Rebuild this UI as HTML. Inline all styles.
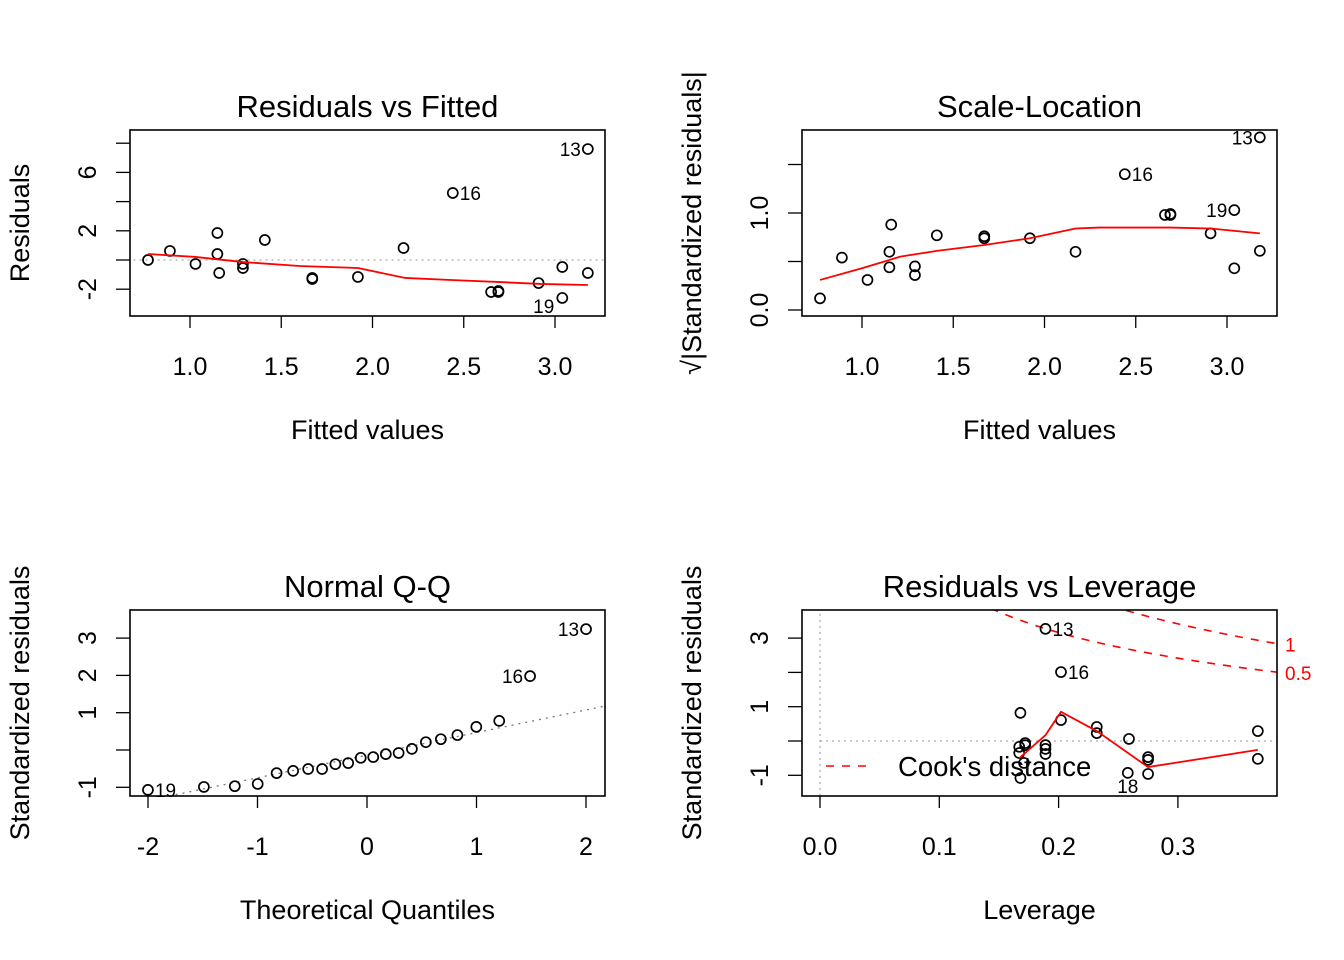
<!DOCTYPE html>
<html><head><meta charset="utf-8"><style>
html,body{margin:0;padding:0;background:#fff;width:1344px;height:960px;overflow:hidden}
svg{display:block;font-family:"Liberation Sans",Arial,sans-serif}
</style></head><body>
<svg id="chart" width="1344" height="960" xmlns="http://www.w3.org/2000/svg"></svg>
<script>
// Panel 1: Residuals vs Fitted
const rvfFitted=[0.77,0.89,1.03,1.15,1.15,1.16,1.29,1.29,1.41,1.67,1.67,1.92,2.17,2.44,2.65,2.69,2.69,2.91,3.04,3.04,3.18,3.18];
const rvfResid=[0,0.62,-0.27,1.85,0.41,-0.89,-0.27,-0.55,1.37,-1.23,-1.3,-1.16,0.82,4.59,-2.19,-2.19,-2.12,-1.58,-2.6,-0.48,-0.89,7.6];
const rvfSmoothX=[0.77,1.03,1.29,1.60,1.92,2.18,2.43,2.70,2.92,3.18];
const rvfSmoothY=[0.41,0.21,-0.14,-0.41,-0.55,-1.23,-1.37,-1.51,-1.64,-1.71];
// Panel 2: Scale-Location
const slFitted=[0.77,0.89,1.03,1.16,1.15,1.15,1.29,1.29,1.41,1.67,1.67,1.92,2.17,2.44,2.66,2.69,2.69,2.91,3.04,3.04,3.18,3.18];
const slSqrt=[0.12,0.54,0.31,0.88,0.6,0.44,0.45,0.36,0.77,0.74,0.76,0.74,0.6,1.40,0.98,0.98,0.99,0.79,1.03,0.43,0.61,1.78];
const slSmoothX=[0.77,1.0,1.21,1.41,1.67,1.92,2.17,2.30,2.69,2.91,3.18];
const slSmoothY=[0.31,0.43,0.55,0.61,0.67,0.74,0.84,0.85,0.85,0.84,0.79];
// Panel 3: Normal Q-Q (sorted standardized residuals)
const qqStd=[-1.07,-0.99,-0.97,-0.91,-0.62,-0.56,-0.51,-0.51,-0.38,-0.35,-0.21,-0.19,-0.11,-0.08,0.03,0.21,0.29,0.40,0.62,0.78,1.98,3.24];
// Panel 4: Residuals vs Leverage
const lvLev=[0.168,0.172,0.167,0.167,0.171,0.168,0.172,0.189,0.189,0.189,0.189,0.202,0.202,0.232,0.232,0.259,0.258,0.275,0.275,0.275,0.367,0.367];
const lvStd=[0.82,-0.06,-0.17,-0.35,-0.64,-1.08,-0.12,3.27,-0.12,-0.23,-0.38,2.01,0.61,0.41,0.23,0.06,-0.93,-0.47,-0.55,-0.96,0.29,-0.52];
const lvSmoothX=[0.167,0.189,0.202,0.232,0.275,0.367];
const lvSmoothY=[-0.50,0.17,0.85,0.29,-0.76,-0.26];
const cookLevels=[0.5,1];
const nParams=5;

const NS="http://www.w3.org/2000/svg";
const svg=document.getElementById('chart');
function el(tag,attrs,parent,text){const e=document.createElementNS(NS,tag);for(const k in attrs)e.setAttribute(k,attrs[k]);if(text!==undefined)e.textContent=text;(parent||svg).appendChild(e);return e;}

function qnorm(p){
 const a=[-39.69683028665376,220.9460984245205,-275.9285104469687,138.3577518672690,-30.66479806614716,2.506628277459239];
 const b=[-54.47609879822406,161.5858368580409,-155.6989798598866,66.80131188771543,-13.28068155288572];
 const c=[-0.007784894002430293,-0.3223964580411365,-2.400758277161838,-2.549732539343734,4.374664141464968,2.938163982698783];
 const d=[0.007784695709041462,0.3224671290700398,2.445134137142996,3.754408661907416];
 let q,r;
 if(p<0.02425){q=Math.sqrt(-2*Math.log(p));return (((((c[0]*q+c[1])*q+c[2])*q+c[3])*q+c[4])*q+c[5])/((((d[0]*q+d[1])*q+d[2])*q+d[3])*q+1);}
 if(p>1-0.02425){q=Math.sqrt(-2*Math.log(1-p));return -(((((c[0]*q+c[1])*q+c[2])*q+c[3])*q+c[4])*q+c[5])/((((d[0]*q+d[1])*q+d[2])*q+d[3])*q+1);}
 q=p-0.5;r=q*q;return (((((a[0]*r+a[1])*r+a[2])*r+a[3])*r+a[4])*r+a[5])*q/(((((b[0]*r+b[1])*r+b[2])*r+b[3])*r+b[4])*r+1);
}

let clipId=0;
function panel(o){
 const g=el('g',{});
 
 
 const id='clip'+(clipId++);
 const cp=el('clipPath',{id:id},g);el('rect',{x:o.x0,y:o.y0,width:o.x1-o.x0,height:o.y1-o.y0},cp);
 const plot=el('g',{'clip-path':'url(#'+id+')'},g);
 const t=el('text',{x:(o.x0+o.x1)/2,y:o.y0-13,'text-anchor':'middle','font-size':31},g,o.title);
 
 o.xt.forEach((v,i)=>{const px=o.sx(v);el('line',{x1:px,x2:px,y1:o.y1,y2:o.y1+12,stroke:'#000','stroke-width':1.3},g);
  const l=el('text',{x:px,y:o.y1+59,'text-anchor':'middle','font-size':25},g,o.xl[i]);
  });
 o.yt.forEach(v=>{const py=o.sy(v);el('line',{x1:o.x0-14,x2:o.x0,y1:py,y2:py,stroke:'#000','stroke-width':1.3},g);});
 o.yl.forEach(([v,s])=>{const py=o.sy(v);const l=el('text',{x:0,y:0,'text-anchor':'middle','font-size':25,transform:`translate(${o.x0-34},${py}) rotate(-90)`},g,s);
  });
 const xl=el('text',{x:(o.x0+o.x1)/2,y:o.y1+123,'text-anchor':'middle','font-size':27},g,o.xlab);
 
 const yl=el('text',{x:0,y:0,'text-anchor':'middle','font-size':27,transform:`translate(${o.ylx},${(o.y0+o.y1)/2}) rotate(-90)`},g,o.ylab);
 
 el('rect',{x:o.x0,y:o.y0,width:o.x1-o.x0,height:o.y1-o.y0,fill:'none',stroke:'#000','stroke-width':1.6},g);
 return {g,plot};
}
function pts(P,xs,ys,sx,sy){xs.forEach((x,i)=>{const c=el('circle',{cx:sx(x),cy:sy(ys[i]),r:5,fill:'none',stroke:'#000','stroke-width':1.7},P);
 });}
function line(P,xs,ys,sx,sy,attrs,name){const d=xs.map((x,i)=>(i?'L':'M')+sx(x)+','+sy(ys[i])).join('');const p=el('path',Object.assign({d:d,fill:'none'},attrs),P);
 return p;}
function lab(P,x,y,s,anchor){const t=el('text',{x:x,y:y,'text-anchor':anchor,'font-size':19},P,s);}

// Panel 1
{const sx=v=>190+(v-1)*182.5, sy=v=>260-v*14.6;
 const {g,plot}=panel({name:'residuals-vs-fitted',x0:130,x1:605,y0:130,y1:316,sx,sy,title:'Residuals vs Fitted',xlab:'Fitted values',ylab:'Residuals',ylx:29,
  xt:[1,1.5,2,2.5,3],xl:['1.0','1.5','2.0','2.5','3.0'],yt:[-2,0,2,4,6,8],yl:[[-2,'-2'],[2,'2'],[6,'6']]});
 line(plot,[0,4],[0,0],sx,sy,{stroke:'#aaa','stroke-width':1.3,'stroke-dasharray':'2 4'},'zero-line');
 pts(plot,rvfFitted,rvfResid,sx,sy);
 line(plot,rvfSmoothX,rvfSmoothY,sx,sy,{stroke:'#f00','stroke-width':1.8},'smooth-line');
 lab(g,sx(3.18)-7,sy(7.6)+7,'13','end');lab(g,sx(2.44)+7,sy(4.59)+7,'16','start');lab(g,sx(3.04)-8,sy(-2.6)+15,'19','end');}
// Panel 2
{const sx=v=>862+(v-1)*182.5, sy=v=>310-v*97;
 const {g,plot}=panel({name:'scale-location',x0:802,x1:1277,y0:130,y1:316,sx,sy,title:'Scale-Location',xlab:'Fitted values',ylab:'√|Standardized residuals|',ylx:701,
  xt:[1,1.5,2,2.5,3],xl:['1.0','1.5','2.0','2.5','3.0'],yt:[0,0.5,1,1.5],yl:[[0,'0.0'],[1,'1.0']]});
 pts(plot,slFitted,slSqrt,sx,sy);
 line(plot,slSmoothX,slSmoothY,sx,sy,{stroke:'#f00','stroke-width':1.8},'smooth-line');
 lab(g,sx(3.18)-7,sy(1.78)+7,'13','end');lab(g,sx(2.44)+7,sy(1.40)+7,'16','start');lab(g,sx(3.04)-7,sy(1.03)+7,'19','end');}
// Panel 3
{const sx=v=>367+v*109.5, sy=v=>750-v*37.3;
 const {g,plot}=panel({name:'normal-qq',x0:130,x1:605,y0:610,y1:796,sx,sy,title:'Normal Q-Q',xlab:'Theoretical Quantiles',ylab:'Standardized residuals',ylx:29,
  xt:[-2,-1,0,1,2],xl:['-2','-1','0','1','2'],yt:[-1,0,1,2,3],yl:[[-1,'-1'],[1,'1'],[2,'2'],[3,'3']]});
 const n=qqStd.length, th=qqStd.map((_,i)=>qnorm((i+0.5)/n));
 const q=p=>{const h=(n-1)*p,lo=Math.floor(h);return qqStd[lo]+(h-lo)*(qqStd[lo+1]-qqStd[lo]);};
 const slope=(q(0.75)-q(0.25))/(qnorm(0.75)-qnorm(0.25)), ic=q(0.25)-slope*qnorm(0.25);
 line(plot,[-3,3],[ic-3*slope,ic+3*slope],sx,sy,{stroke:'#777','stroke-width':1.3,'stroke-dasharray':'2 5'},'qq-line');
 pts(plot,th,qqStd,sx,sy);
 lab(g,sx(th[n-1])-7,sy(qqStd[n-1])+7,'13','end');lab(g,sx(th[n-2])-7,sy(qqStd[n-2])+7,'16','end');lab(g,sx(th[0])+7,sy(qqStd[0])+7,'19','start');}
// Panel 4
{const sx=v=>820+v*1193, sy=v=>741-v*34.3;
 const {g,plot}=panel({name:'residuals-vs-leverage',x0:802,x1:1277,y0:610,y1:796,sx,sy,title:'Residuals vs Leverage',xlab:'Leverage',ylab:'Standardized residuals',ylx:701,
  xt:[0,0.1,0.2,0.3],xl:['0.0','0.1','0.2','0.3'],yt:[-1,0,1,2,3],yl:[[-1,'-1'],[1,'1'],[3,'3']]});
 line(plot,[0,0.4],[0,0],sx,sy,{stroke:'#aaa','stroke-width':1.3,'stroke-dasharray':'2 4'},'zero-line');
 line(plot,[0,0],[-3,5],sx,sy,{stroke:'#aaa','stroke-width':1.3,'stroke-dasharray':'2 4'},'zero-leverage-line');
 cookLevels.forEach(c=>{const hs=[],ys=[],ys2=[];for(let h=0.01;h<=0.40;h+=0.005){hs.push(h);const v=Math.sqrt(c*nParams*(1-h)/h);ys.push(v);ys2.push(-v);}
  line(plot,hs,ys,sx,sy,{stroke:'#f00','stroke-width':1.6,'stroke-dasharray':'8 8'},'cooks-distance-'+c);
  line(plot,hs,ys2,sx,sy,{stroke:'#f00','stroke-width':1.6,'stroke-dasharray':'8 8'},'cooks-distance-neg-'+c);
  const hx=(1277-820)/1193,vy=Math.sqrt(c*nParams*(1-hx)/hx);
  const t=el('text',{x:1285,y:sy(vy)+8,fill:'#f00','font-size':19},g,String(c));});
 pts(plot,lvLev,lvStd,sx,sy);
 line(plot,lvSmoothX,lvSmoothY,sx,sy,{stroke:'#f00','stroke-width':1.8},'smooth-line');
 lab(g,sx(0.189)+7,sy(3.27)+7,'13','start');lab(g,sx(0.202)+7,sy(2.01)+7,'16','start');lab(g,sx(0.258),sy(-0.93)+20,'18','middle');
 const lg=el('g',{},g);
 el('line',{x1:826,x2:868,y1:766,y2:766,stroke:'#f00','stroke-width':1.6,'stroke-dasharray':'8 8'},lg);
 const lt=el('text',{x:898,y:776,'font-size':27.5},lg,"Cook's distance");}
</script>
</body></html>
